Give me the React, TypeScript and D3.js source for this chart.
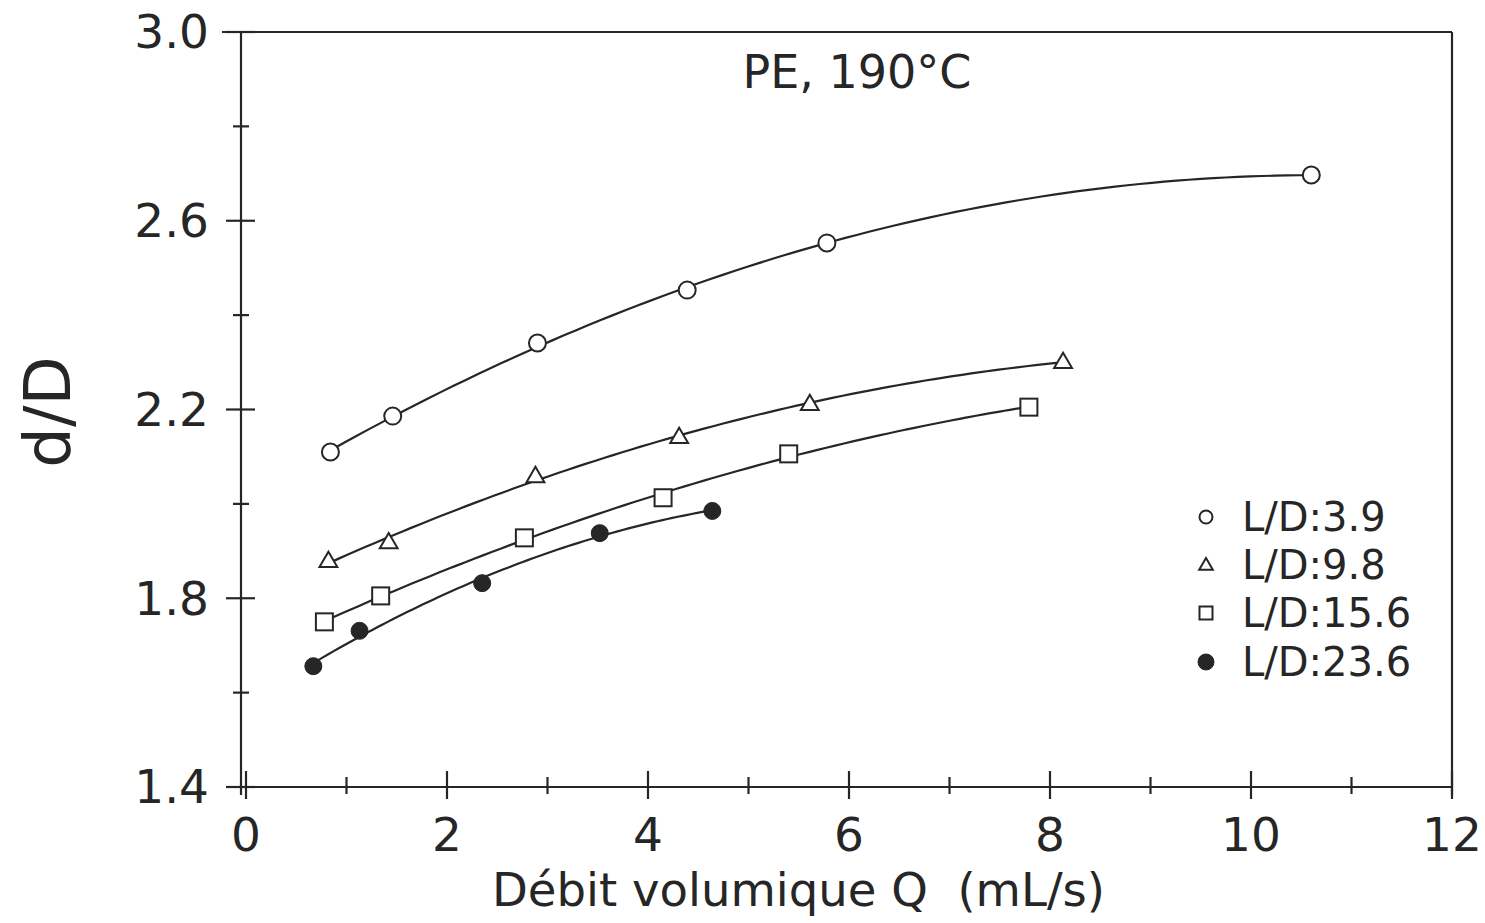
import React from "react";
import * as d3 from "d3";

const W = 1485;
const H = 923;

// L/D 3.9 (open circles)
const q39 = [0.84, 1.46, 2.9, 4.39, 5.78, 10.6];
const d39 = [2.11, 2.186, 2.341, 2.453, 2.553, 2.697];
// L/D 9.8 (open triangles)
const q98 = [0.82, 1.42, 2.88, 4.31, 5.61, 8.13];
const d98 = [1.879, 1.919, 2.059, 2.142, 2.212, 2.301];
// L/D 15.6 (open squares)
const q156 = [0.78, 1.34, 2.77, 4.15, 5.4, 7.79];
const d156 = [1.75, 1.805, 1.928, 2.013, 2.106, 2.205];
// L/D 23.6 (filled circles)
const q236 = [0.67, 1.13, 2.35, 3.52, 4.64];
const d236 = [1.656, 1.731, 1.832, 1.938, 1.985];

const legendLabels = ["L/D:3.9", "L/D:9.8", "L/D:15.6", "L/D:23.6"];
const markerKinds = ["circle", "triangle", "square", "dot"];

const xMajor = [0, 2, 4, 6, 8, 10, 12];
const xMinor = [1, 3, 5, 7, 9, 11];
const yMajor = [1.4, 1.8, 2.2, 2.6, 3.0];
const yMinor = [1.6, 2.0, 2.4, 2.8];

const title = "PE, 190°C";
const xTitle = "Débit volumique Q\u00a0\u00a0(mL/s)";
const yTitle = "d/D";

const INK = "#262626";
const FONT = "DejaVu Sans";

// least-squares quadratic fit (smooth trend curve through the measured points)
function quadFit(xs: number[], ys: number[]) {
  const n = xs.length;
  let s0 = n, s1 = 0, s2 = 0, s3 = 0, s4 = 0, t0 = 0, t1 = 0, t2 = 0;
  for (let i = 0; i < n; i++) {
    const xv = xs[i], yv = ys[i];
    s1 += xv; s2 += xv * xv; s3 += xv ** 3; s4 += xv ** 4;
    t0 += yv; t1 += xv * yv; t2 += xv * xv * yv;
  }
  const A = [
    [s0, s1, s2, t0],
    [s1, s2, s3, t1],
    [s2, s3, s4, t2],
  ];
  for (let c = 0; c < 3; c++) {
    let p = c;
    for (let r = c + 1; r < 3; r++) if (Math.abs(A[r][c]) > Math.abs(A[p][c])) p = r;
    [A[c], A[p]] = [A[p], A[c]];
    for (let r = 0; r < 3; r++) {
      if (r === c) continue;
      const f = A[r][c] / A[c][c];
      for (let k = c; k < 4; k++) A[r][k] -= f * A[c][k];
    }
  }
  const a = A[0][3] / A[0][0], b = A[1][3] / A[1][1], cc = A[2][3] / A[2][2];
  return (xv: number) => a + b * xv + cc * xv * xv;
}

function Marker({ kind, cx, cy, s }: { kind: string; cx: number; cy: number; s: number }) {
  const sw = 2;
  if (kind === "circle")
    return <circle cx={cx} cy={cy} r={s} fill="white" stroke={INK} strokeWidth={sw} />;
  if (kind === "dot") return <circle cx={cx} cy={cy} r={s} fill={INK} stroke={INK} strokeWidth={1} />;
  if (kind === "square")
    return (
      <rect x={cx - s} y={cy - s} width={2 * s} height={2 * s} fill="white" stroke={INK} strokeWidth={sw} />
    );
  const h = s * 1.8;
  const p = `M${cx},${cy - h * 0.6} L${cx + s * 1.05},${cy + h * 0.4} L${cx - s * 1.05},${cy + h * 0.4} Z`;
  return <path d={p} fill="white" stroke={INK} strokeWidth={sw} strokeLinejoin="miter" />;
}

export default function App() {
  const x = d3.scaleLinear().domain([0, 12]).range([246, 1452]);
  const y = d3.scaleLinear().domain([1.4, 3.0]).range([787, 32]);

  const series = [
    { q: q39, d: d39, kind: markerKinds[0] },
    { q: q98, d: d98, kind: markerKinds[1] },
    { q: q156, d: d156, kind: markerKinds[2] },
    { q: q236, d: d236, kind: markerKinds[3] },
  ];

  const line = d3
    .line<[number, number]>()
    .x((p) => x(p[0]))
    .y((p) => y(p[1]))
    .curve(d3.curveMonotoneX);

  const curvePts = (q: number[], d: number[]) => {
    const f = quadFit(q, d);
    const lo = q[0], hi = q[q.length - 1];
    const n = 80;
    return d3.range(n + 1).map((i) => {
      const xv = lo + ((hi - lo) * i) / n;
      return [xv, f(xv)] as [number, number];
    });
  };

  const axisX = x(0) - 5; // left frame line
  const yTop = y(3.0);
  const yBot = y(1.4);
  const xRight = x(12);

  const legendY = [517, 565, 613, 662];
  const legendX = 1206;

  return (
    <svg
      width={W}
      height={H}
      style={{ position: "absolute", left: 0, top: 0, background: "white" }}
      fontFamily={FONT}
    >
      <rect x={0} y={0} width={W} height={H} fill="white" />
      {/* frame */}
      <g stroke={INK} strokeWidth={2.2} fill="none">
        <line x1={222} y1={yTop} x2={xRight} y2={yTop} />
        <line x1={xRight} y1={yTop} x2={xRight} y2={yBot + 8} />
        <line x1={axisX} y1={yTop} x2={axisX} y2={yBot + 8} />
        <line x1={231} y1={yBot} x2={xRight} y2={yBot} />
        {yMajor.map((v) => (
          <line key={"ym" + v} x1={axisX - 15} y1={y(v)} x2={axisX + 14} y2={y(v)} />
        ))}
        {yMinor.map((v) => (
          <line key={"yn" + v} x1={axisX - 8} y1={y(v)} x2={axisX + 8} y2={y(v)} />
        ))}
        {xMajor.map((v) => (
          <line key={"xm" + v} x1={x(v)} y1={yBot - 16} x2={x(v)} y2={yBot + 12} />
        ))}
        {xMinor.map((v) => (
          <line key={"xn" + v} x1={x(v)} y1={yBot - 10} x2={x(v)} y2={yBot + 7} />
        ))}
      </g>

      {/* tick labels */}
      <g fill={INK} fontSize={47}>
        {yMajor.map((v) => (
          <text key={"yl" + v} x={209} y={y(v)} dy="0.35em" textAnchor="end">
            {d3.format(".1f")(v)}
          </text>
        ))}
        {xMajor.map((v) => (
          <text key={"xl" + v} x={x(v)} y={851} textAnchor="middle">
            {v}
          </text>
        ))}
      </g>

      {/* titles */}
      <text x={857} y={88} textAnchor="middle" fontSize={46} fill={INK}>
        {title}
      </text>
      <text
        x={492}
        y={906}
        fontSize={47}
        fill={INK}
        textLength={613}
        lengthAdjust="spacingAndGlyphs"
      >
        {xTitle}
      </text>
      <text
        transform={`translate(70,412) rotate(-90)`}
        textAnchor="middle"
        fontSize={64}
        fill={INK}
      >
        {yTitle}
      </text>

      {/* curves */}
      {series.map((s, i) => (
        <path
          key={"c" + i}
          d={line(curvePts(s.q, s.d)) || ""}
          fill="none"
          stroke={INK}
          strokeWidth={2.2}
        />
      ))}
      {/* markers */}
      {series.map((s, i) =>
        s.q.map((v, j) => (
          <Marker key={"m" + i + "-" + j} kind={s.kind} cx={x(v)} cy={y(s.d[j])} s={8.5} />
        ))
      )}

      {/* legend */}
      {legendLabels.map((lab, i) => (
        <g key={"lg" + i}>
          <Marker kind={markerKinds[i]} cx={legendX} cy={legendY[i]} s={i === 3 ? 8 : 6.5} />
          <text x={1242} y={legendY[i] + 14} fontSize={40} fill={INK}>
            {lab}
          </text>
        </g>
      ))}
    </svg>
  );
}
